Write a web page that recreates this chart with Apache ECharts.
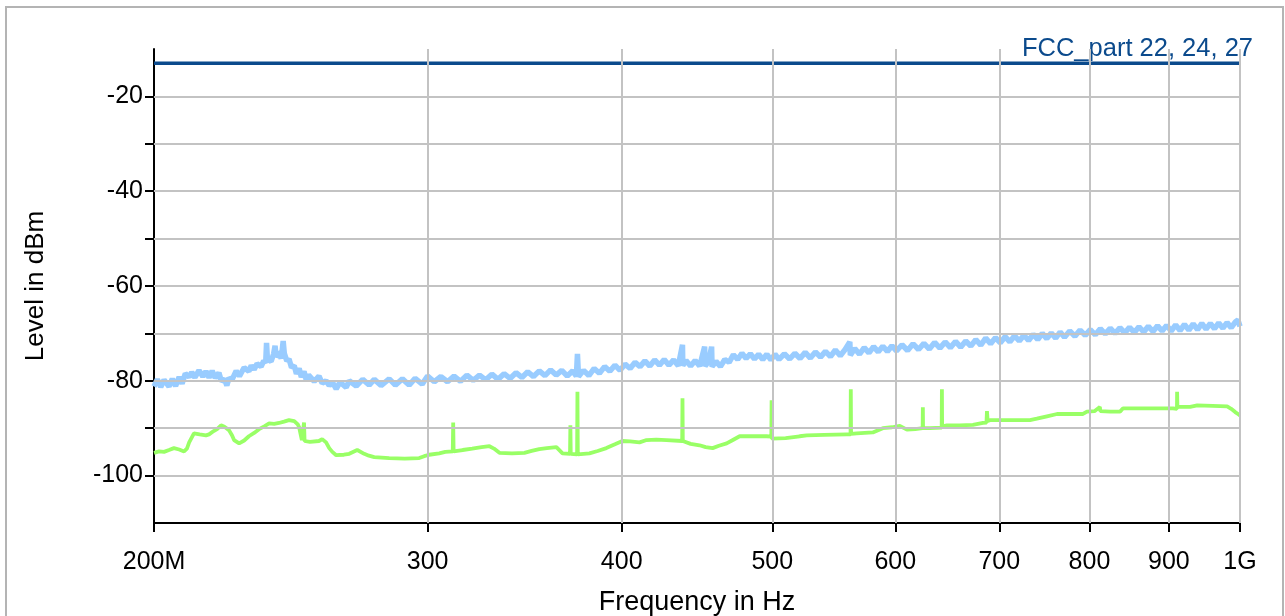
<!DOCTYPE html>
<html>
<head>
<meta charset="utf-8">
<script src="https://cdn.jsdelivr.net/npm/echarts@6/dist/echarts.min.js"></script>
<style>
  html, body { margin: 0; padding: 0; background: #ffffff; overflow: hidden; width: 1285px; height: 616px; }
  #chart { position: absolute; left: 0; top: 0; width: 1285px; height: 616px; }
  #frame { position: absolute; left: 5px; top: 6px; width: 1279px; height: 610px;
           border: 2px solid #b4b4b4; border-bottom: none; box-sizing: border-box; pointer-events: none; }
</style>
</head>
<body>
<div id="chart"></div>
<div id="frame"></div>
<script>
// ---------------- data (MHz, dBm) ----------------
const freqTicks = [200, 300, 400, 500, 600, 700, 800, 900, 1000];
const freqTickLabels = ['200M', '300', '400', '500', '600', '700', '800', '900', '1G'];
const levelTicks = [-100, -90, -80, -70, -60, -50, -40, -30, -20];
const levelLabelTicks = [-100, -80, -60, -40, -20];

const limitName = 'FCC_part 22, 24, 27';
const limitFreq = [200, 1000];
const limitLevel = [-13, -13];

const blueFreq = [
  200.0, 201.0, 202.0, 203.0, 204.5, 205.5, 206.5, 207.6, 208.5, 209.5,
  210.7, 211.5, 212.5, 213.8, 215.0, 216.0, 217.0, 218.0, 219.0, 220.2,
  221.0, 222.0, 222.8, 223.5, 224.5, 225.9, 227.0, 228.6, 230.2, 231.0,
  232.0, 233.0, 234.4, 235.3, 236.0, 236.3, 236.6, 237.9, 238.8, 239.3,
  239.7, 240.7, 241.5, 242.2, 242.6, 243.5, 244.3, 245.2, 246.2, 247.0,
  248.0, 248.8, 249.8, 250.6, 251.5, 253.6, 255.4, 256.6, 258.1, 259.3,
  260.5, 262.0, 263.5, 265.9, 267.1, 269.9, 272.5, 275.1, 277.2, 280.0,
  283.4, 286.0, 289.0, 291.9, 294.5, 297.6,
  300, 303, 306, 309, 312, 315, 318, 321, 324, 327,
  330, 333, 336, 339, 342, 345, 348, 351, 354, 357,
  360, 363, 366, 369, 372, 374.0, 374.6, 375.2, 378, 381,
  384, 387, 390, 393, 396, 399, 402, 405, 408, 411,
  414, 417, 420, 423, 426, 429, 432, 435, 437.7, 437.9,
  440, 443, 446, 449, 452.3, 452.6, 455, 457.0, 457.3, 460,
  463, 466, 469, 472, 475, 478, 481, 484, 487, 490,
  493, 496, 499, 502, 505, 509, 513, 517, 521, 525,
  529, 533, 537, 541, 545, 549, 553, 557, 560.9, 561.3,
  565, 569, 573, 577, 581, 585, 589, 593, 597, 601,
  606, 611, 616, 621, 626, 631, 636, 641, 646, 651,
  656, 661, 666, 671, 676, 681, 686, 691, 696, 701,
  706, 711, 716, 721, 726, 731, 736, 741, 746, 751,
  756, 761, 766, 771, 777, 783, 789, 795, 801, 807,
  813, 819, 825, 831, 837, 843, 849, 855, 861, 867,
  873, 879, 885, 891, 897, 903, 909, 915, 921, 927,
  933, 939, 945, 951, 957, 963, 969, 975, 981, 987,
  993, 997, 1000
];
const blueLevel = [
  -81.2, -79.7, -81.3, -79.8, -81.2, -79.6, -81.1, -79.2, -80.6, -78.5,
  -79.2, -78.2, -79.3, -77.8, -79.1, -78.0, -79.3, -77.9, -79.4, -78.3,
  -80.1, -79.6, -81.0, -79.4, -79.8, -77.9, -79.0, -77.2, -78.0, -76.8,
  -77.6, -76.4, -77.0, -75.8, -76.2, -72.0, -75.4, -75.9, -74.3, -72.6,
  -75.0, -73.9, -75.3, -71.6, -74.2, -75.8, -75.4, -77.2, -76.8, -78.5,
  -77.4, -79.2, -78.0, -79.8, -78.8, -80.1, -79.0, -80.5, -80.0, -81.0,
  -80.3, -81.7, -80.3, -81.4, -80.0, -81.1, -79.7, -80.9, -79.7, -81.0,
  -79.6, -80.9, -79.6, -80.9, -79.5, -80.7,
  -79.0, -80.2, -79.1, -80.2, -79.0, -80.1, -78.8, -79.9, -78.8, -79.8,
  -78.6, -79.7, -78.5, -79.5, -78.3, -79.3, -78.1, -79.1, -77.9, -78.9,
  -77.7, -78.8, -77.8, -79.0, -77.9, -79.0, -74.3, -79.1, -77.8, -78.9,
  -77.4, -78.4, -77.0, -78.0, -76.7, -77.8, -76.5, -77.4, -76.1, -77.0,
  -75.8, -76.9, -75.6, -76.7, -75.5, -76.7, -75.6, -76.8, -72.4, -76.8,
  -75.7, -76.9, -75.7, -76.9, -72.8, -76.9, -75.9, -72.8, -77.0, -75.9,
  -77.0, -75.5, -76.1, -74.5, -75.5, -74.2, -75.3, -74.3, -75.4, -74.4,
  -75.5, -74.4, -75.6, -74.4, -75.5, -74.3, -75.4, -74.2, -75.3, -74.0,
  -75.2, -73.9, -75.0, -73.8, -74.9, -73.5, -74.7, -73.4, -71.8, -74.6,
  -73.2, -74.4, -73.0, -74.1, -72.8, -73.9, -72.7, -73.8, -72.6, -73.7,
  -72.4, -73.6, -72.2, -73.4, -72.1, -73.3, -71.9, -73.1, -71.8, -73.0,
  -71.7, -72.9, -71.6, -72.7, -71.3, -72.5, -71.0, -72.2, -70.9, -72.0,
  -70.7, -71.8, -70.5, -71.6, -70.4, -71.5, -70.2, -71.3, -70.0, -71.1,
  -69.9, -71.0, -69.7, -70.8, -69.5, -70.6, -69.3, -70.4, -69.2, -70.3,
  -69.0, -70.1, -68.9, -70.0, -68.8, -69.9, -68.7, -69.8, -68.6, -69.7,
  -68.5, -69.6, -68.4, -69.5, -68.3, -69.5, -68.2, -69.4, -68.1, -69.3,
  -68.0, -69.2, -67.9, -69.1, -67.9, -69.0, -67.8, -68.9, -67.7, -68.8,
  -67.6, -67.2, -68.5
];

const greenFreq = [
  200.0, 201.5, 203.0, 204.5, 206.0, 207.6, 209.1, 210.0, 210.7, 212.2,
  214.0, 216.0, 217.0, 218.5, 219.6, 220.9, 222.0, 223.5, 224.5, 225.2,
  226.9, 228.6, 230.2, 232.0, 233.7, 235.5, 237.2, 239.0, 240.7, 242.5,
  244.3, 246.2, 247.5, 248.0, 249.0, 249.6, 249.8, 250.0, 252.0, 255.4,
  256.6, 258.1, 259.3, 260.5, 262.0, 265.0, 267.1, 270.3, 273.1, 275.0,
  277.2, 283.4, 290.0, 296.3, 298.5, 300.7, 305.2, 308.0, 311.4, 311.6,
  311.8, 316.0, 320.5, 325.0, 328.8, 331.0, 333.7, 340.0, 346.3, 350.0,
  354.0, 358.0, 363.1, 366.4, 370.5, 370.7, 370.9, 374.4, 374.6, 374.8,
  381.3, 386.0, 391.0, 396.0, 400.4, 405.0, 410.7, 415.0, 421.0, 427.5,
  437.5, 437.7, 437.9, 443.0, 448.9, 453.0, 457.7, 462.0, 467.3, 471.0,
  476.4, 486.0, 495.8, 499.3, 499.5, 499.7, 510.0, 520.7, 526.2, 540.0,
  558.4, 561.5, 561.7, 561.9, 566.7, 580.3, 589.0, 597.0, 604.0, 610.4,
  618.0, 624.8, 625.0, 625.2, 631.5, 642.7, 642.9, 643.1, 647.7, 660.0,
  673.1, 683.2, 686.8, 687.3, 688.0, 690.3, 710.0, 732.5, 740.0, 751.2,
  762.5, 780.0, 792.4, 797.1, 806.0, 812.5, 813.0, 825.0, 837.1, 840.9,
  860.0, 880.0, 905.6, 910.8, 911.0, 911.4, 928.8, 938.5, 960.0, 981.1,
  987.0, 992.9, 997.0, 1000.0
];
const greenLevel = [
  -95.2, -94.9, -95.0, -94.6, -94.2, -94.5, -94.9, -94.3, -93.0, -91.1,
  -91.3, -91.5, -91.3, -90.6, -90.2, -89.4, -89.7, -90.4, -91.5, -92.5,
  -93.2, -92.6, -91.7, -91.0, -90.2, -89.6, -89.0, -89.1, -88.9, -88.6,
  -88.3, -88.5, -89.2, -89.8, -92.5, -92.7, -88.8, -92.7, -92.9, -92.7,
  -92.3, -93.0, -94.2, -95.0, -95.7, -95.6, -95.4, -94.6, -95.4, -95.8,
  -96.1, -96.3, -96.4, -96.3, -95.9, -95.6, -95.3, -95.0, -94.9, -88.8,
  -94.9, -94.6, -94.3, -94.0, -93.8, -94.3, -95.2, -95.3, -95.2, -94.8,
  -94.4, -94.2, -94.0, -95.3, -95.4, -89.4, -95.4, -95.5, -82.3, -95.5,
  -95.3, -94.8, -94.2, -93.4, -92.7, -92.8, -93.0, -92.5, -92.4, -92.5,
  -92.7, -83.7, -92.7, -93.3, -93.6, -94.0, -94.2, -93.7, -93.2, -92.6,
  -91.7, -91.7, -91.7, -91.8, -84.1, -92.2, -92.1, -91.7, -91.5, -91.4,
  -91.3, -91.3, -81.8, -91.2, -91.1, -90.9, -90.0, -89.8, -89.5, -90.3,
  -90.2, -90.0, -85.6, -90.0, -90.0, -89.9, -81.8, -89.6, -89.4, -89.4,
  -89.3, -88.9, -88.8, -86.4, -88.5, -88.3, -88.3, -88.3, -88.0, -87.5,
  -87.0, -87.0, -87.0, -86.5, -86.4, -85.5, -86.4, -86.5, -86.5, -85.8,
  -85.8, -85.8, -85.8, -85.9, -82.3, -85.5, -85.5, -85.2, -85.3, -85.4,
  -85.9, -86.6, -87.0, -87.3
];

// ---------------- chart ----------------
const pairs = (xs, ys) => xs.map((x, i) => [x, ys[i]]);
const FONT = 'Liberation Sans, Arial, sans-serif';
const GRID_COLOR = '#c3c3c3';
const gridBox = { left: 154, top: 49, width: 1086, height: 474, containLabel: false, outerBoundsMode: 'none' };

const chart = echarts.init(document.getElementById('chart'), null, { renderer: 'canvas', width: 1285, height: 616 });

const baseX = { type: 'log', logBase: 10, min: 200, max: 1000 };
const baseY = { type: 'value', min: -110, max: -10, interval: 10 };
const tickStyle = { color: '#000', width: 2 };

chart.setOption({
  animation: false,
  backgroundColor: '#ffffff',
  grid: [Object.assign({}, gridBox), Object.assign({}, gridBox)],
  xAxis: [
    Object.assign({}, baseX, {
      gridIndex: 0, position: 'bottom',
      name: 'Frequency in Hz', nameLocation: 'middle', nameGap: 66,
      nameTextStyle: { fontFamily: FONT, fontSize: 27, color: '#000' },
      axisLine: { show: true, lineStyle: { color: '#000', width: 2 } },
      axisTick: { show: true, inside: false, length: 9, lineStyle: tickStyle, customValues: freqTicks },
      axisLabel: {
        show: true, margin: 27, fontFamily: FONT, fontSize: 25, color: '#000',
        customValues: freqTicks,
        formatter: v => { const i = freqTicks.findIndex(t => Math.abs(t - v) < 1e-6); return i >= 0 ? freqTickLabels[i] : ''; }
      },
      splitLine: { show: false }, minorTick: { show: false }
    }),
    Object.assign({}, baseX, {
      gridIndex: 1, position: 'bottom',
      axisLine: { show: false },
      axisTick: { show: true, inside: true, length: 9, lineStyle: tickStyle, customValues: freqTicks },
      axisLabel: { show: false },
      splitLine: { show: false }
    })
  ],
  yAxis: [
    Object.assign({}, baseY, {
      gridIndex: 0, position: 'left',
      name: 'Level in dBm', nameLocation: 'middle', nameGap: 105, nameRotate: 90,
      nameTextStyle: { fontFamily: FONT, fontSize: 26, color: '#000' },
      axisLine: { show: true, onZero: false, lineStyle: { color: '#000', width: 2 } },
      axisTick: { show: true, inside: false, length: 9, lineStyle: tickStyle, customValues: levelTicks },
      axisLabel: { show: true, margin: 11, fontFamily: FONT, fontSize: 25, color: '#000', customValues: levelLabelTicks },
      splitLine: { show: false }
    }),
    Object.assign({}, baseY, {
      gridIndex: 1, position: 'left',
      axisLine: { show: false, onZero: false },
      axisTick: { show: true, inside: true, length: 9, lineStyle: tickStyle, customValues: levelTicks },
      axisLabel: { show: false },
      splitLine: { show: false }
    })
  ],
  series: [
    {
      name: 'grid', type: 'line', data: [], z: 1, silent: true, xAxisIndex: 0, yAxisIndex: 0,
      markLine: {
        silent: true, symbol: 'none', animation: false,
        label: { show: false },
        lineStyle: { color: GRID_COLOR, type: 'solid', width: 2 },
        data: freqTicks.slice(1).map(v => ({ xAxis: v }))
          .concat(levelTicks.map(v => ({ yAxis: v })))
      }
    },
    {
      name: 'peak', type: 'line', data: pairs(blueFreq, blueLevel), xAxisIndex: 0, yAxisIndex: 0,
      symbol: 'none', z: 3, lineStyle: { color: '#99ccff', width: 5.5 }, itemStyle: { color: '#99ccff' }
    },
    {
      name: 'average', type: 'line', data: pairs(greenFreq, greenLevel), xAxisIndex: 0, yAxisIndex: 0,
      symbol: 'none', z: 3, lineStyle: { color: '#99ff66', width: 3.8 }, itemStyle: { color: '#99ff66' }
    },
    {
      name: limitName, type: 'line', data: pairs(limitFreq, limitLevel), xAxisIndex: 0, yAxisIndex: 0,
      symbol: 'none', z: 4, lineStyle: { color: '#0b4a8c', width: 3.5 }, itemStyle: { color: '#0b4a8c' },
      endLabel: {
        show: true, formatter: limitName, fontFamily: FONT, fontSize: 25.5, color: '#0b4a8c',
        align: 'right', verticalAlign: 'bottom', offset: [5, -1]
      }
    }
  ]
});
</script>
</body>
</html>
